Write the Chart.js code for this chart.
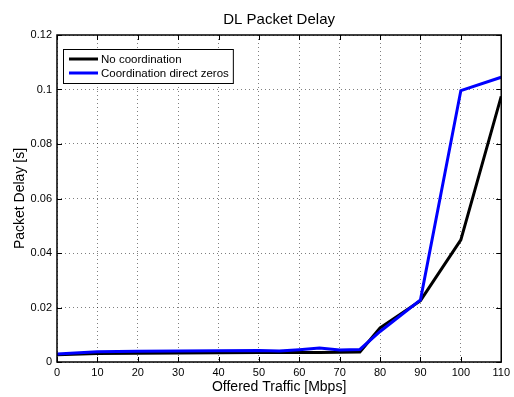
<!DOCTYPE html>
<html>
<head>
<meta charset="utf-8">
<title>DL Packet Delay</title>
<script src="https://cdn.jsdelivr.net/npm/chart.js@4/dist/chart.umd.min.js"></script>
<style>
  html, body { margin: 0; padding: 0; background: #fff; }
  canvas { display: block; }
</style>
</head>
<body>
<canvas id="delayChart" width="514" height="397"></canvas>
<script>
// offered traffic in Mbps
const offered = [0, 10, 20, 30, 40, 50, 55, 60, 65, 70, 75, 80, 90, 100, 110]

// mean DL packet delay in seconds
const noCoord = [0.0027, 0.0031, 0.0032, 0.0033, 0.0034, 0.0035, 0.0035, 0.0035, 0.0035, 0.0036, 0.0037, 0.0125, 0.0225, 0.0448, 0.0975]
const coordZeros = [0.0029, 0.0038, 0.0039, 0.0040, 0.0041, 0.0042, 0.0040, 0.0045, 0.0051, 0.0044, 0.0046, 0.0112, 0.0228, 0.0996, 0.1045]

const seriesLabels = ['No coordination', 'Coordination direct zeros']
const xTicks = [0, 10, 20, 30, 40, 50, 60, 70, 80, 90, 100, 110]
const yTicks = [0, 0.02, 0.04, 0.06, 0.08, 0.1, 0.12]

const FONT = "'Liberation Sans', Arial, Helvetica, sans-serif"

function points(xs, ys) {
    return xs.map((x, i) => ({ x: x, y: ys[i] }))
}

// box around the axes with inward ticks on all four sides, title and legend
const matlabFrame = {
    id: 'matlabFrame',
    afterDraw(chart) {
        const ctx = chart.ctx
        const a = chart.chartArea
        const xs = chart.scales.x
        const ys = chart.scales.y
        const tl = 5

        ctx.save()
        ctx.strokeStyle = '#000'
        ctx.lineWidth = 1
        ctx.beginPath()
        xTicks.forEach(v => {
            const px = Math.round(xs.getPixelForValue(v)) + 0.5
            ctx.moveTo(px, a.bottom); ctx.lineTo(px, a.bottom - tl)
            ctx.moveTo(px, a.top); ctx.lineTo(px, a.top + tl)
        })
        yTicks.forEach(v => {
            const py = Math.round(ys.getPixelForValue(v)) + 0.5
            ctx.moveTo(a.left, py); ctx.lineTo(a.left + tl, py)
            ctx.moveTo(a.right, py); ctx.lineTo(a.right - tl, py)
        })
        ctx.stroke()
        ctx.lineWidth = 1.5
        ctx.strokeRect(a.left, a.top, a.right - a.left, a.bottom - a.top)

        // title
        ctx.fillStyle = '#000'
        ctx.font = '15px ' + FONT
        ctx.textAlign = 'center'
        ctx.textBaseline = 'middle'
        ctx.fillText('DL Packet Delay', (a.left + a.right) / 2, 20)

        // legend
        ctx.font = '11.5px ' + FONT
        const ds = chart.data.datasets
        let tw = 0
        ds.forEach(d => { tw = Math.max(tw, ctx.measureText(d.label).width) })
        const lx = a.left + 6
        const ly = a.top + 14
        const lw = 38 + tw + 4
        const lh = 34
        ctx.fillStyle = '#fff'
        ctx.fillRect(lx, ly, lw, lh)
        ctx.lineWidth = 1
        ctx.strokeStyle = '#000'
        ctx.strokeRect(lx + 0.5, ly + 0.5, lw, lh)
        ds.forEach((d, i) => {
            const ry = ly + 10 + i * 14
            ctx.strokeStyle = d.borderColor
            ctx.lineWidth = 3
            ctx.beginPath()
            ctx.moveTo(lx + 6, ry)
            ctx.lineTo(lx + 35, ry)
            ctx.stroke()
            ctx.fillStyle = '#000'
            ctx.textAlign = 'left'
            ctx.fillText(d.label, lx + 38, ry + 0.5)
        })
        ctx.restore()
    }
}

const data = {
    datasets: [{
            label: seriesLabels[0],
            data: points(offered, noCoord),
            borderColor: '#000000',
            borderWidth: 3,
            pointRadius: 0,
            order: 1
        }, {
            label: seriesLabels[1],
            data: points(offered, coordZeros),
            borderColor: '#0000ff',
            borderWidth: 3,
            pointRadius: 0,
            order: 0
        }]
}

const config = {
    type: 'line',
    data: data,
    options: {
        responsive: false,
        animation: false,
        devicePixelRatio: 1,
        layout: { padding: { left: 0, right: 10, top: 35, bottom: 0 } },
        plugins: {
            legend: { display: false },
            title: { display: false },
            tooltip: { enabled: false }
        },
        scales: {
            x: {
                type: 'linear',
                min: 0,
                max: 110,
                afterFit: s => { s.height = 35 },
                afterBuildTicks: s => { s.ticks = xTicks.map(v => ({ value: v })) },
                ticks: {
                    padding: 4,
                    color: '#000',
                    font: { family: FONT, size: 11 },
                    maxRotation: 0,
                    autoSkip: false
                },
                grid: { color: 'rgba(0,0,0,0.5)', lineWidth: 1, drawTicks: false },
                border: { display: false, dash: [1, 3] },
                title: {
                    display: true,
                    text: 'Offered Traffic [Mbps]',
                    color: '#000',
                    font: { family: FONT, size: 14 },
                    padding: { top: 0, bottom: 1.6 }
                }
            },
            y: {
                min: 0,
                max: 0.12,
                afterFit: s => { s.width = 57 },
                afterBuildTicks: s => { s.ticks = yTicks.map(v => ({ value: v })) },
                ticks: {
                    padding: 5,
                    color: '#000',
                    font: { family: FONT, size: 11 },
                    callback: v => String(+v.toFixed(2))
                },
                grid: { color: 'rgba(0,0,0,0.5)', lineWidth: 1, drawTicks: false },
                border: { display: false, dash: [1, 3] },
                title: {
                    display: true,
                    text: 'Packet Delay [s]',
                    color: '#000',
                    font: { family: FONT, size: 14 },
                    padding: { top: 11.6, bottom: 0 }
                }
            }
        }
    },
    plugins: [matlabFrame]
}

new Chart(document.getElementById('delayChart').getContext('2d'), config)
</script>
</body>
</html>
